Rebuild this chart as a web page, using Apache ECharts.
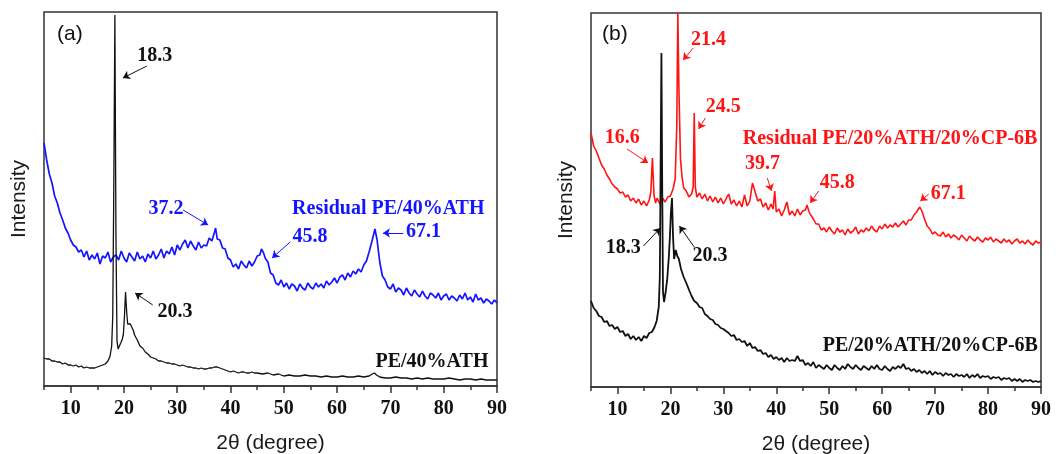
<!DOCTYPE html>
<html>
<head>
<meta charset="utf-8">
<script src="https://cdn.jsdelivr.net/npm/echarts@6/dist/echarts.min.js"></script>
<style>
  html, body { margin: 0; padding: 0; background: #fff; }
  #chart { width: 1062px; height: 454px; }
</style>
</head>
<body>
<div id="chart"></div>
<script>
// Tick positions on the 2θ axis
const majorTicks = [10, 20, 30, 40, 50, 60, 70, 80, 90];
const minorTicks = [5, 15, 25, 35, 45, 55, 65, 75, 85];

// (a) PE/40%ATH — [2θ, intensity (a.u.)]
const pe40ATH = [
  [5,28],[5.5,27],[6,27],[6.5,25],[7,25],[7.5,24],[8,24],[8.5,22],[9,23],[9.5,21],[10,21],[10.5,20],[11,21],[11.5,19],[12,20],[12.5,18],[13,19],[13.5,18],[14,18],[14.5,18],[15,19],[15.5,20],[16,21],[16.5,22],[17,25],[17.4,30],[17.7,40],[17.9,70],[18.1,200],[18.3,371],[18.5,150],[18.7,45],[18.9,37],[19.1,38],[19.4,43],[19.7,47],[19.9,52],[20.1,70],[20.3,94],[20.5,75],[20.7,62],[20.9,63],[21.2,62],[21.5,61],[21.8,55],[22,51],[22.5,46],[23,40],[23.5,38],[24,34],[24.5,32],[25,29],[25.5,28],[26,27],[26.5,25],[27,25],[27.5,24],[28,23],[28.5,23],[29,22],[29.5,22],[30,21],[30.5,20],[31,21],[31.5,20],[32,19],[32.5,19],[33,18],[33.5,18],[34,17],[34.5,18],[35,17],[35.5,17],[36,18],[36.5,18],[37,19],[37.5,19],[38,18],[38.5,17],[39,16],[39.5,15],[40,14],[40.5,15],[41,14],[41.5,13],[42,14],[42.5,14],[43,13],[43.5,13],[44,14],[44.5,13],[45,13],[46,12],[47,13],[48,11],[49,12],[50,10],[51,11],[52,10],[53,10],[54,11],[55,10],[56,10],[57,9],[58,10],[59,9],[60,9],[61,10],[62,9],[63,9],[64,10],[65,9],[66,10],[66.6,12],[67,13],[67.4,11],[68,9],[69,8],[70,8],[71,9],[72,8],[73,8],[74,7],[75,8],[76,7],[77,8],[78,7],[79,7],[80,7],[81,8],[82,7],[83,6],[84,7],[85,7],[86,6],[87,7],[88,6],[89,6],[90,6]
];

// (a) Residual PE/40%ATH
const residualPe40ATH = [
  [5,243],[5.5,226],[6,212],[6.5,203],[7,190],[7.5,183],[8,173],[8.5,166],[9,158],[9.5,153],[10,146],[10.5,141],[11,139],[11.5,134],[12,136],[12.5,129],[13,135],[13.5,126],[14,131],[14.5,127],[15,133],[15.5,122],[16,130],[16.5,128],[17,134],[17.5,124],[18,129],[18.5,131],[19,126],[19.5,135],[20,128],[20.5,124],[21,133],[21.5,129],[22,125],[22.5,134],[23,127],[23.5,130],[24,124],[24.5,132],[25,128],[25.5,135],[26,127],[26.5,131],[27,137],[27.5,128],[28,135],[28.5,132],[29,139],[29.5,131],[30,141],[30.5,136],[31,142],[31.5,146],[32,138],[32.5,145],[33,140],[33.5,136],[34,144],[34.5,138],[35,141],[35.5,140],[36,148],[36.5,145],[37,154],[37.2,158],[37.5,147],[38,146],[38.5,138],[39,137],[39.5,128],[40,126],[40.5,119],[41,122],[41.5,117],[42,125],[42.5,121],[43,118],[43.5,125],[44,120],[44.5,124],[45,130],[45.5,131],[45.8,137],[46.2,133],[46.5,128],[47,124],[47.5,113],[48,111],[48.5,103],[49,101],[49.5,106],[50,99],[50.5,103],[51,97],[51.5,102],[52,100],[52.5,95],[53,102],[53.5,98],[54,96],[54.5,103],[55,99],[55.5,97],[56,103],[56.5,99],[57,102],[57.5,98],[58,105],[58.5,101],[59,104],[59.5,108],[60,103],[60.5,109],[61,111],[61.5,106],[62,113],[62.5,109],[63,115],[63.5,112],[64,117],[64.5,114],[65,121],[65.5,125],[66,134],[66.5,144],[67.1,157],[67.5,146],[68,124],[68.5,110],[69,106],[69.5,99],[70,97],[70.5,102],[71,94],[71.5,98],[72,96],[72.5,91],[73,98],[73.5,93],[74,90],[74.5,96],[75,92],[75.5,89],[76,95],[76.5,90],[77,87],[77.5,93],[78,91],[78.5,88],[79,93],[79.5,86],[80,90],[80.5,92],[81,86],[81.5,90],[82,88],[82.5,85],[83,91],[83.5,87],[84,93],[84.5,86],[85,89],[85.5,84],[86,92],[86.5,86],[87,88],[87.5,83],[88,87],[88.5,85],[89,82],[89.5,86],[90,83]
];

// (b) PE/20%ATH/20%CP-6B
const pe20ATH20CP = [
  [5,86],[5.5,79],[6,76],[6.5,71],[7,70],[7.5,65],[8,66],[8.5,61],[9,62],[9.5,58],[10,60],[10.5,55],[11,56],[11.5,51],[12,53],[12.5,48],[13,51],[13.5,47],[14,50],[14.5,46],[15,51],[15.5,49],[16,54],[16.5,55],[17,60],[17.4,66],[17.8,80],[18,110],[18.15,220],[18.3,334],[18.45,200],[18.6,95],[18.8,85],[19.1,95],[19.4,108],[19.7,130],[19.9,150],[20.1,175],[20.3,189],[20.5,150],[20.7,128],[21,137],[21.3,131],[21.6,128],[22,118],[22.5,110],[23,104],[23.3,106],[23.6,96],[24,91],[24.5,86],[25,84],[25.5,80],[26,79],[26.5,73],[27,71],[27.5,68],[28,67],[28.5,63],[29,62],[29.5,59],[30,58],[30.5,56],[31,54],[31.5,51],[32,52],[32.5,47],[33,48],[33.5,45],[34,46],[34.5,41],[35,44],[35.5,39],[36,40],[36.5,36],[37,37],[37.5,33],[38,34],[38.5,30],[39,32],[39.5,28],[40,30],[40.5,27],[41,29],[41.5,25],[42,29],[42.5,26],[43,27],[43.5,26],[44,31],[44.5,26],[45,27],[45.5,22],[46,24],[46.5,21],[47,25],[47.5,19],[48,22],[48.5,20],[49,18],[49.5,22],[50,19],[50.5,17],[51,22],[51.5,19],[52,17],[52.5,21],[53,18],[53.5,23],[54,20],[54.5,18],[55,22],[55.5,19],[56,17],[56.5,21],[57,19],[57.5,17],[58,21],[58.5,18],[59,22],[59.5,18],[60,17],[60.5,21],[61,18],[61.5,16],[62,20],[62.5,18],[63,21],[63.5,19],[64,23],[64.5,18],[65,19],[65.5,16],[66,18],[66.5,15],[67,17],[67.5,14],[68,16],[68.5,13],[69,16],[69.5,12],[70,15],[70.5,13],[71,14],[71.5,11],[72,14],[72.5,12],[73,13],[73.5,10],[74,13],[74.5,11],[75,12],[75.5,10],[76,13],[76.5,9],[77,12],[77.5,10],[78,13],[78.5,9],[79,11],[79.5,10],[80,11],[80.5,8],[81,10],[81.5,9],[82,10],[82.5,7],[83,9],[83.5,8],[84,9],[84.5,6],[85,8],[85.5,6],[86,8],[86.5,5],[87,7],[87.5,6],[88,7],[88.5,5],[89,6],[89.5,5],[90,6]
];

// (b) Residual PE/20%ATH/20%CP-6B
const residualPe20ATH20CP = [
  [5,254],[5.5,241],[6,236],[6.5,229],[7,222],[7.5,218],[8,212],[8.5,208],[9,203],[9.5,200],[10,198],[10.5,194],[11,195],[11.5,190],[12,192],[12.5,186],[13,189],[13.5,184],[14,188],[14.5,182],[15,186],[15.5,181],[16,187],[16.3,195],[16.6,229],[16.9,192],[17.2,184],[17.5,189],[18,183],[18.5,189],[19,185],[19.5,190],[20,191],[20.5,198],[20.9,208],[21.2,260],[21.4,374],[21.6,300],[21.9,228],[22.2,210],[22.5,199],[23,196],[23.5,190],[24,193],[24.3,200],[24.5,274],[24.7,200],[25,190],[25.5,194],[26,188],[26.5,193],[27,186],[27.5,191],[28,185],[28.5,190],[29,184],[29.5,189],[30,183],[30.5,188],[31,193],[31.5,183],[32,187],[32.5,181],[33,186],[33.5,180],[34,192],[34.5,181],[35,186],[35.5,204],[36,195],[36.5,186],[37,188],[37.5,180],[38,184],[38.5,177],[39,183],[39.4,178],[39.7,196],[40,175],[40.5,178],[41,171],[41.5,177],[42,185],[42.5,172],[43,176],[43.5,171],[44,178],[44.5,172],[45,176],[45.5,177],[45.8,182],[46.2,175],[46.5,172],[47,168],[47.5,163],[48,163],[48.5,157],[49,159],[49.5,155],[50,160],[50.5,156],[51,153],[51.5,159],[52,155],[52.5,157],[53,152],[53.5,158],[54,154],[54.5,156],[55,160],[55.5,153],[56,157],[56.5,155],[57,159],[57.5,156],[58,161],[58.5,157],[59,155],[59.5,161],[60,158],[60.5,163],[61,159],[61.5,162],[62,160],[62.5,164],[63,160],[63.5,163],[64,166],[64.5,162],[65,167],[65.5,167],[66,172],[66.5,175],[67.1,180],[67.5,176],[68,168],[68.5,161],[69,158],[69.5,153],[70,155],[70.5,152],[71,151],[71.5,155],[72,150],[72.5,153],[73,149],[73.5,152],[74,150],[74.5,147],[75,152],[75.5,149],[76,146],[76.5,151],[77,148],[77.5,146],[78,150],[78.5,147],[79,145],[79.5,149],[80,147],[80.5,150],[81,145],[81.5,148],[82,146],[82.5,144],[83,148],[83.5,145],[84,147],[84.5,143],[85,146],[85.5,148],[86,144],[86.5,146],[87,143],[87.5,147],[88,144],[88.5,142],[89,146],[89.5,144],[90,145]
];

// Annotation texts: [text, 2θ, intensity, ink]
const notesA = [
  ['18.3', 25.8, 330, 'k'],
  ['20.3', 29.6, 74, 'k'],
  ['37.2', 27.9, 177, 'b'],
  ['45.8', 54.9, 149, 'b'],
  ['67.1', 76.2, 154, 'b'],
  ['Residual PE/40%ATH', 69.6, 177, 'b'],
  ['PE/40%ATH', 77.8, 24, 'k']
];
const notesB = [
  ['21.4', 27.2, 347, 'r'],
  ['24.5', 30.0, 280, 'r'],
  ['16.6', 10.9, 249, 'r'],
  ['Residual PE/20%ATH/20%CP-6B', 61.5, 248, 'r'],
  ['39.7', 37.4, 223, 'r'],
  ['45.8', 51.5, 204, 'r'],
  ['67.1', 72.5, 193, 'r'],
  ['18.3', 11.1, 139, 'k'],
  ['20.3', 27.5, 131, 'k'],
  ['PE/20%ATH/20%CP-6B', 69.1, 41, 'k']
];
// Pointer arrows: [from 2θ, from I, to 2θ, to I, ink]
const arrowsA = [
  [24.3, 320, 19.8, 308, 'k'],
  [25.4, 81, 22.1, 93, 'k'],
  [31.1, 176, 35.8, 161, 'b'],
  [51.2, 144, 47.8, 128, 'b'],
  [72.4, 153, 68.6, 153, 'b']
];
const arrowsB = [
  [24.3, 339, 22.4, 327, 'r'],
  [26.6, 269, 25.3, 258, 'r'],
  [11.8, 238, 15.8, 224, 'r'],
  [38.3, 209, 39.1, 196, 'r'],
  [48.0, 196, 46.4, 184, 'r'],
  [68.8, 193, 67.2, 186, 'r'],
  [14.9, 141, 18.1, 159, 'k'],
  [24.5, 140, 21.7, 161, 'k']
];

const INK = { k: '#111111', b: '#1414ff', r: '#ff1414' };
const FRAME = '#333333';
const SERIF = '"Liberation Serif", "Times New Roman", serif';
const SANS = '"Liberation Sans", Arial, sans-serif';

function majorAxis(grid) {
  return {
    gridIndex: grid, type: 'value', min: 5, max: 90,
    axisLine: { show: true, onZero: false, lineStyle: { color: FRAME, width: 1.5 } },
    axisTick: { show: true, customValues: majorTicks, length: 7, lineStyle: { color: FRAME, width: 1.5 } },
    axisLabel: {
      customValues: majorTicks, margin: 13, verticalAlign: 'top',
      fontFamily: SERIF, fontWeight: 'bold', fontSize: 20, color: '#111'
    },
    splitLine: { show: false },
    name: '2\u03B8 (degree)', nameLocation: 'middle', nameGap: 57, nameMoveOverlap: false,
    nameTextStyle: { fontFamily: SANS, fontSize: 21, color: '#1a1a1a', verticalAlign: 'middle', padding: 0 }
  };
}
function minorAxis(grid) {
  return {
    gridIndex: grid, type: 'value', min: 5, max: 90, position: 'bottom',
    axisLine: { show: false },
    axisTick: { show: true, customValues: minorTicks, length: 4, lineStyle: { color: FRAME, width: 1.5 } },
    axisLabel: { show: false },
    splitLine: { show: false }
  };
}
function intensityAxis(grid) {
  return {
    gridIndex: grid, type: 'value', min: 0, max: 374,
    axisLine: { show: false }, axisTick: { show: false }, axisLabel: { show: false },
    splitLine: { show: false },
    name: 'Intensity', nameLocation: 'middle', nameGap: 14,
    nameTextStyle: { fontFamily: SANS, fontSize: 21, color: '#1a1a1a' }
  };
}
function trace(data, ink, axis, width) {
  return {
    type: 'line', data: data, xAxisIndex: axis, yAxisIndex: axis / 2,
    showSymbol: false, symbol: 'none', sampling: null, smooth: false,
    lineStyle: { color: INK[ink], width: width }, silent: true
  };
}
function annotations(notes, arrows, axis) {
  return {
    type: 'scatter', xAxisIndex: axis, yAxisIndex: axis / 2,
    symbolSize: 0, silent: true, z: 5,
    itemStyle: { opacity: 1 },
    label: {
      show: true, position: 'inside', formatter: p => p.name, opacity: 1,
      fontFamily: SERIF, fontWeight: 'bold', fontSize: 20
    },
    data: notes.map(n => ({ name: n[0], value: [n[1], n[2]], label: { color: INK[n[3]] } })),
    markLine: {
      silent: true, symbol: ['none', 'arrow'], symbolSize: 7,
      label: { show: false }, animation: false,
      data: arrows.map(a => [
        { coord: [a[0], a[1]], lineStyle: { color: INK[a[4]], width: 1, type: 'solid', opacity: 1 } },
        { coord: [a[2], a[3]] }
      ])
    }
  };
}

const chart = echarts.init(document.getElementById('chart'), null, { renderer: 'canvas' });
chart.setOption({
  animation: false,
  backgroundColor: '#fff',
  grid: [
    { left: 44, top: 12, width: 453, height: 374, outerBoundsMode: 'none', containLabel: false,
      show: true, borderColor: FRAME, borderWidth: 1.5 },
    { left: 591, top: 13, width: 450, height: 374, outerBoundsMode: 'none', containLabel: false,
      show: true, borderColor: FRAME, borderWidth: 1.5 }
  ],
  xAxis: [majorAxis(0), minorAxis(0), majorAxis(1), minorAxis(1)],
  yAxis: [intensityAxis(0), intensityAxis(1)],
  graphic: [
    { type: 'text', left: 57, top: 24, style: { text: '(a)', fontFamily: SANS, fontSize: 21, fill: '#111' } },
    { type: 'text', left: 602, top: 24, style: { text: '(b)', fontFamily: SANS, fontSize: 21, fill: '#111' } }
  ],
  series: [
    trace(residualPe40ATH, 'b', 0, 1.7),
    trace(pe40ATH, 'k', 0, 1.3),
    annotations(notesA, arrowsA, 0),
    trace(residualPe20ATH20CP, 'r', 2, 1.6),
    trace(pe20ATH20CP, 'k', 2, 1.8),
    annotations(notesB, arrowsB, 2)
  ]
});
</script>
</body>
</html>
